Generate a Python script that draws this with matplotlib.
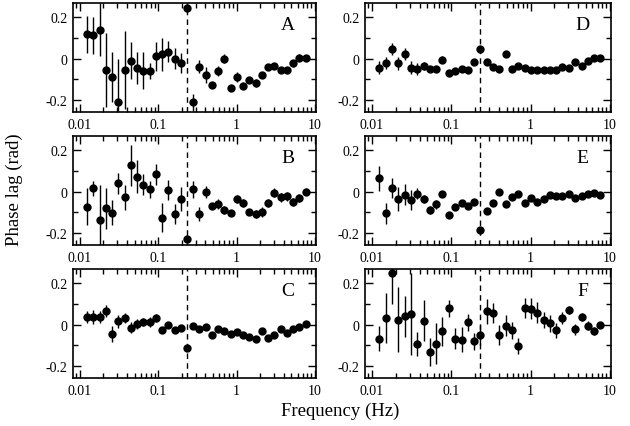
import numpy as np
import matplotlib
matplotlib.use("Agg")
import matplotlib.pyplot as plt
from matplotlib.ticker import FixedLocator, LogLocator, NullFormatter

plt.rcParams['font.family'] = ['Liberation Serif', 'DejaVu Serif']
plt.rcParams['axes.unicode_minus'] = False

# frequencies (Hz), same bins in every panel
freq = [0.0124, 0.0149, 0.0179, 0.0215, 0.0258, 0.0310, 0.0373, 0.0448, 0.0538,
        0.0646, 0.0776, 0.0932, 0.112, 0.135, 0.162, 0.194, 0.233, 0.280, 0.336,
        0.404, 0.485, 0.583, 0.700, 0.841, 1.01, 1.21, 1.46, 1.75, 2.10, 2.52,
        3.03, 3.65, 4.38, 5.26, 6.31, 7.59]
f_mark = 0.23

lag_A = [0.119, 0.114, 0.141, -0.057, -0.089, -0.213, -0.054, -0.010, -0.046, -0.060,
         -0.060, 0.010, 0.020, 0.033, 0.000, -0.022, 0.247, -0.213, -0.039, -0.081,
         -0.127, -0.062, 0.000, -0.143, -0.089, -0.135, -0.106, -0.119, -0.081, -0.041,
         -0.037, -0.057, -0.057, -0.024, 0.005, 0.005]
err_A = [0.09, 0.09, 0.13, 0.18, 0.12, 0.21, 0.19, 0.09, 0.08, 0.09,
         0.04, 0.07, 0.08, 0.05, 0.05, 0.05, 0.02, 0.04, 0.03, 0.04,
         0.015, 0.025, 0.02, 0.012, 0.025, 0.012, 0.012, 0.02, 0.012, 0.012,
         0.015, 0.015, 0.015, 0.015, 0.015, 0.01]

lag_B = [-0.075, 0.015, -0.140, -0.081, -0.102, 0.040, -0.028, 0.128, 0.072, 0.034,
         0.010, 0.083, -0.127, 0.007, -0.109, -0.036, -0.229, 0.010, -0.110, -0.003,
         -0.068, -0.060, -0.091, -0.106, -0.037, -0.054, -0.101, -0.109, -0.098, -0.057,
         -0.005, -0.029, -0.024, -0.050, -0.033, 0.000]
err_B = [0.09, 0.035, 0.17, 0.10, 0.06, 0.05, 0.06, 0.10, 0.08, 0.05,
         0.04, 0.05, 0.07, 0.05, 0.05, 0.06, 0.015, 0.04, 0.035, 0.03,
         0.012, 0.025, 0.02, 0.012, 0.02, 0.02, 0.012, 0.02, 0.025, 0.02,
         0.02, 0.02, 0.02, 0.02, 0.02, 0.015]

lag_C = [0.036, 0.036, 0.036, 0.066, -0.046, 0.015, 0.031, -0.015, 0.003, 0.011,
         0.011, 0.031, -0.028, -0.002, -0.025, -0.018, -0.116, -0.007, -0.021, -0.013,
         -0.051, -0.021, -0.031, -0.046, -0.034, -0.049, -0.062, -0.069, -0.033, -0.067,
         -0.049, -0.021, -0.043, -0.023, -0.010, 0.003]
err_C = [0.03, 0.035, 0.03, 0.03, 0.04, 0.03, 0.025, 0.025, 0.025, 0.02,
         0.025, 0.02, 0.01, 0.01, 0.01, 0.01, 0.015, 0.01, 0.01, 0.01,
         0.01, 0.01, 0.01, 0.01, 0.01, 0.01, 0.01, 0.01, 0.01, 0.01,
         0.01, 0.01, 0.01, 0.01, 0.01, 0.01]

lag_D = [-0.044, -0.021, 0.046, -0.024, 0.021, -0.044, -0.052, -0.037, -0.052, -0.049,
         -0.005, -0.068, -0.062, -0.049, -0.054, -0.016, 0.046, -0.016, -0.041, -0.052,
         0.020, -0.049, -0.037, -0.046, -0.057, -0.057, -0.057, -0.057, -0.057, -0.039,
         -0.044, -0.016, -0.036, -0.013, 0.005, 0.005]
err_D = [0.03, 0.03, 0.03, 0.03, 0.03, 0.03, 0.03, 0.02, 0.015, 0.015,
         0.015, 0.01, 0.01, 0.01, 0.01, 0.01, 0.01, 0.01, 0.01, 0.01,
         0.01, 0.01, 0.01, 0.01, 0.01, 0.01, 0.01, 0.01, 0.01, 0.01,
         0.01, 0.01, 0.01, 0.01, 0.01, 0.01]

lag_E = [0.065, -0.106, 0.018, -0.037, -0.015, -0.041, -0.010, -0.037, -0.088, -0.063,
         -0.011, -0.114, -0.075, -0.055, -0.072, -0.052, -0.187, -0.096, -0.057, 0.000,
         -0.059, -0.028, -0.011, -0.054, -0.031, -0.049, -0.037, -0.016, -0.023, -0.020,
         -0.011, -0.033, -0.023, -0.011, -0.008, -0.018]
err_E = [0.06, 0.05, 0.05, 0.06, 0.05, 0.05, 0.025, 0.02, 0.02, 0.02,
         0.015, 0.015, 0.015, 0.01, 0.01, 0.01, 0.01, 0.01, 0.01, 0.01,
         0.01, 0.01, 0.01, 0.01, 0.01, 0.01, 0.01, 0.01, 0.01, 0.01,
         0.01, 0.01, 0.01, 0.01, 0.01, 0.01]

lag_F = [-0.069, 0.032, 0.250, 0.024, 0.040, 0.052, -0.094, 0.019, -0.134, -0.094,
         -0.032, 0.079, -0.069, -0.073, 0.010, -0.082, -0.050, 0.065, 0.056, -0.050,
         -0.006, -0.029, -0.105, 0.081, 0.077, 0.058, 0.023, 0.006, -0.029, 0.031,
         0.071, -0.024, 0.035, -0.005, -0.032, -0.002]
err_F = [0.06, 0.12, 0.15, 0.16, 0.10, 0.20, 0.06, 0.10, 0.07, 0.10,
         0.07, 0.04, 0.05, 0.06, 0.04, 0.04, 0.05, 0.06, 0.05, 0.05,
         0.05, 0.04, 0.04, 0.05, 0.05, 0.05, 0.04, 0.04, 0.035, 0.03,
         0.02, 0.025, 0.02, 0.02, 0.02, 0.015]

panels = [('A', lag_A, err_A), ('B', lag_B, err_B), ('C', lag_C, err_C),
          ('D', lag_D, err_D), ('E', lag_E, err_E), ('F', lag_F, err_F)]

fig = plt.figure(figsize=(6.3, 4.27), dpi=100)

col_left = [73 / 630, 365 / 630]
col_w = [243 / 630, 246 / 630]
row_top = [4, 137, 270]
row_h = 109

for k, (name, lag, err) in enumerate(panels):
    c, r = divmod(k, 3)
    ax = fig.add_axes([col_left[c], 1 - (row_top[r] + row_h) / 427, col_w[c], row_h / 427])
    ax.errorbar(freq, lag, yerr=err, fmt='o', ms=5, color='black',
                ecolor='black', elinewidth=1, capsize=0)
    ax.axvline(f_mark, color='black', lw=1, ls=(0, (4, 3)))
    ax.set_xscale('log')
    ax.set_xlim(0.0082, 10.3)
    ax.set_ylim(-0.26, 0.27)
    ax.xaxis.set_major_locator(FixedLocator([0.01, 0.1, 1, 10]))
    ax.set_xticklabels(['0.01', '0.1', '1', '10'])
    ax.xaxis.set_minor_locator(LogLocator(base=10, subs=np.arange(2, 10)))
    ax.xaxis.set_minor_formatter(NullFormatter())
    ax.set_yticks([-0.2, 0, 0.2])
    ax.set_yticklabels(['-0.2', '0', '0.2'])
    ax.set_yticks([-0.1, 0.1], minor=True)
    ax.tick_params(which='both', direction='in', top=True, right=True,
                   labelsize=10, width=1)
    ax.tick_params(which='major', length=6, pad=4)
    ax.tick_params(which='minor', length=3.5)
    for s in ax.spines.values():
        s.set_linewidth(1.2)
    ax.text(0.885, 0.80, name, transform=ax.transAxes, fontsize=14,
            ha='center', va='center')

fig.text(0.54, 0.037, 'Frequency (Hz)', ha='center', va='center', fontsize=13.5)
fig.text(0.022, 0.555, 'Phase lag (rad)', ha='center', va='center',
         rotation=90, fontsize=13.5)

fig.savefig('out.png', dpi=100)
